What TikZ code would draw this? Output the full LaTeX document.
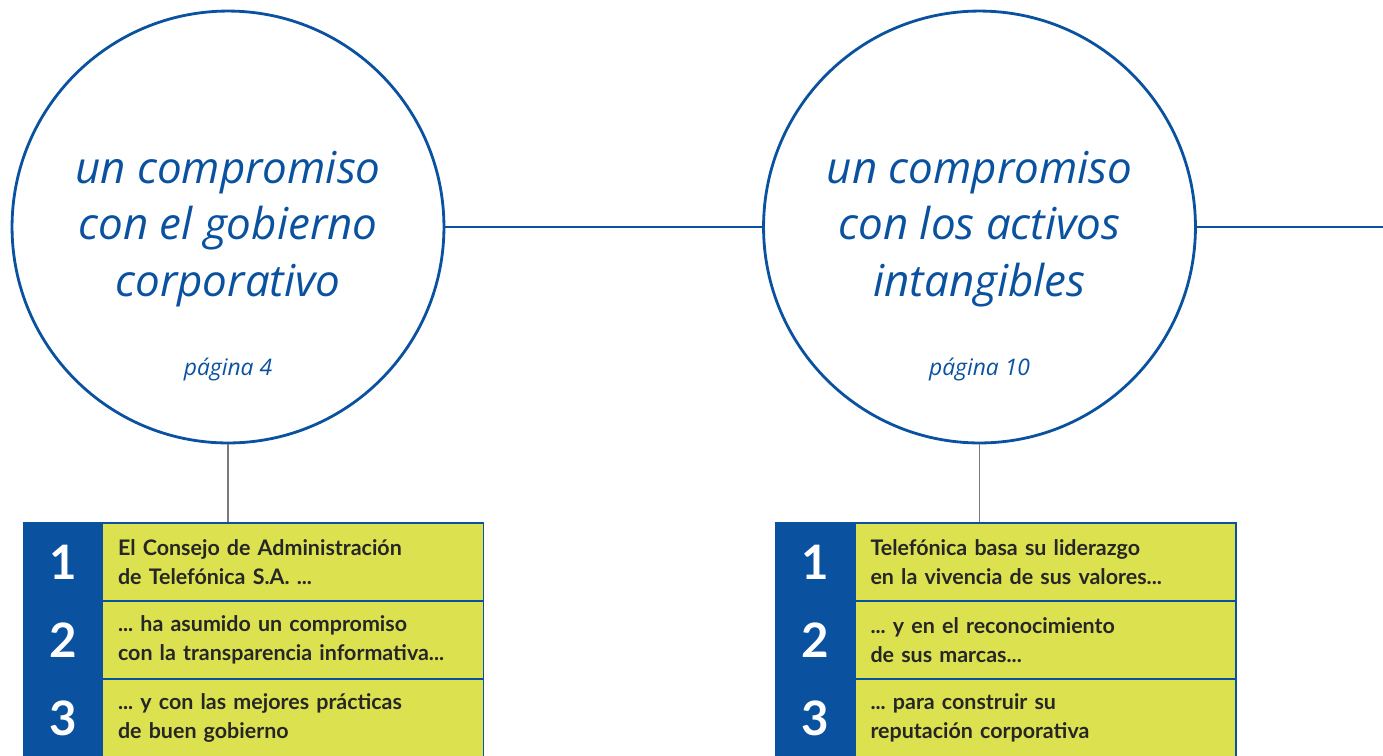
\documentclass[tikz,border=0pt]{standalone}
\usepackage{fontspec}
\setmainfont{Open Sans}
\newfontfamily\tabfont{Lato}
\definecolor{tblue}{HTML}{0A52A0}
\definecolor{tgreen}{HTML}{DCE24F}
\definecolor{tgrey}{HTML}{7A7A7A}
\hyphenpenalty=10000
\frenchspacing
\begin{document}
\begin{tikzpicture}[x=0.02cm, y=-0.02cm,
	circ/.style = {draw=tblue, line width=1.6pt, circle, minimum size=8.64cm, inner sep=0pt},
	title/.style = {text=tblue, align=center, font=\itshape\fontsize{25}{32.3}\selectfont},
	page/.style = {text=tblue, font=\itshape\fontsize{13}{16}\selectfont},
	num/.style = {draw=tblue, line width=0.6pt, fill=tblue, text=white, minimum width=1.58cm, minimum height=1.56cm, inner sep=0pt, font=\tabfont\bfseries\fontsize{27}{30}\selectfont},
	cell/.style = {draw=tblue, line width=0.6pt, fill=tgreen, text=black!85, minimum height=1.56cm, text width=7cm, inner xsep=0.31cm, align=left, font=\tabfont\bfseries\fontsize{12.2}{16.4}\selectfont},
	link/.style = {draw=tblue, line width=1.6pt}]
	\useasboundingbox (0,0) rectangle (1383,755);
	
	% circles
	\node[circ] (c1) at (228,227) {};
	\node[circ] (c2) at (979.5,227) {};
	\node[title] (t1) at (228,229) {un compromiso\\con el gobierno\\corporativo};
	\node[title] (t2) at (979.5,229) {un compromiso\\con los activos\\intangibles};
	\node[page, anchor=base] (p1) at (228,375) {página 4};
	\node[page, anchor=base] (p2) at (979.5,375) {página 10};
	\coordinate (e) at (1383,227);
	
	% table 1
	\node[num] (a1) at (63,562) {1};
	\node[num] (a2) at (63,640) {2};
	\node[num] (a3) at (63,718) {3};
	\node[cell] (b1) at (293,562) {El Consejo de Administración\\de Telefónica S.A. ...};
	\node[cell] (b2) at (293,640) {... ha asumido un compromiso\\con la transparencia informativa...};
	\node[cell] (b3) at (293,718) {... y con las mejores prácticas\\de buen gobierno};
	
	% table 2
	\node[num] (d1) at (815.5,562) {1};
	\node[num] (d2) at (815.5,640) {2};
	\node[num] (d3) at (815.5,718) {3};
	\node[cell] (f1) at (1045.5,562) {Telefónica basa su liderazgo\\en la vivencia de sus valores...};
	\node[cell] (f2) at (1045.5,640) {... y en el reconocimiento\\de sus marcas...};
	\node[cell] (f3) at (1045.5,718) {... para construir su\\reputación corporativa};
	
	\draw[link] (c1.east) -- (c2.west);
	\draw[link] (c2.east) -- (e);
	\draw[tgrey, line width=0.6pt] (c1.south) -- (b1.north -| c1.south);
	\draw[tgrey, line width=0.6pt] (c2.south) -- (f1.north -| c2.south);
	
\end{tikzpicture}
\end{document}
